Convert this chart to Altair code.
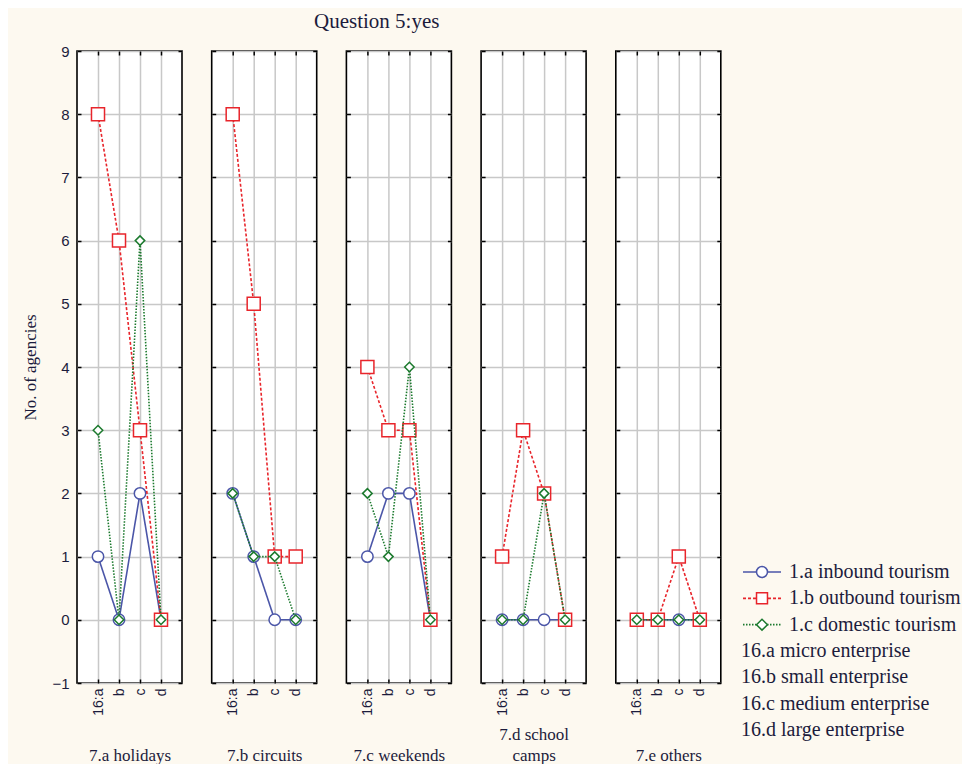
import altair as alt
import pandas as pd

# ---------------- data ----------------
cats = ["a", "b", "c", "d"]
panel_titles = [["7.a holidays"], ["7.b circuits"], ["7.c weekends"], ["7.d school", "camps"], ["7.e others"]]
series = ["1.a inbound tourism", "1.b outbound tourism", "1.c domestic tourism"]
inbound = [[1, 0, 2, 0], [2, 1, 0, 0], [1, 2, 2, 0], [0, 0, 0, 0], [0, 0, 0, 0]]
outbound = [[8, 6, 3, 0], [8, 5, 1, 1], [4, 3, 3, 0], [1, 3, 2, 0], [0, 0, 1, 0]]
domestic = [[3, 0, 6, 0], [2, 1, 1, 0], [2, 1, 4, 0], [0, 0, 2, 0], [0, 0, 0, 0]]
enterprise = ["16.a micro enterprise", "16.b small enterprise", "16.c medium enterprise", "16.d large enterprise"]
y_ticks = list(range(-1, 10))
chart_title = "Question 5:yes"
y_title = "No. of agencies"

# ---------------- styles ----------------
colors = ["#4b56a8", "#e8252b", "#1c7a2e"]
dashes = [[1, 0], [3, 2], [1.5, 1.5]]
shapes = ["circle", "square", "diamond"]
sizes = [130, 170, 90]
SERIF = "Liberation Serif"
SANS = "Liberation Sans"
TXT = "#1c1c3c"
GRID = "#c8c8c8"
TICK = 4

color_scale = alt.Scale(domain=series, range=colors)
dash_scale = alt.Scale(domain=series, range=dashes)
shape_scale = alt.Scale(domain=series, range=shapes)

PW, PH = 105, 632


def tick_axis(orient, values=None):
    kw = dict(orient=orient, offset=-TICK, tickSize=TICK, tickColor="black", tickWidth=1.5,
              labels=False, domain=False, grid=False, title=None)
    if values is not None:
        kw["values"] = values
    return alt.Axis(**kw)


def panel(i):
    rows = []
    for s, vals in zip(series, [inbound[i], outbound[i], domestic[i]]):
        for c, v in zip(cats, vals):
            rows.append({"cat": c, "series": s, "value": v})
    df = pd.DataFrame(rows)
    two = len(panel_titles[i]) > 1
    xaxis = alt.Axis(
        title=panel_titles[i] if two else panel_titles[i][0],
        titleFont=SERIF, titleFontSize=17, titleFontWeight="normal", titleColor=TXT,
        titleBaseline="top", titleY=43 if two else 64, titleLineHeight=21,
        labelAngle=270, labelAlign="right", labelBaseline="middle",
        labelExpr="datum.value == 'a' ? '16:a' : datum.value",
        labelFont=SANS, labelFontSize=14, labelColor=TXT, labelPadding=5,
        ticks=False, domain=False, grid=True, gridColor=GRID, gridWidth=1.5,
    )
    if i == 0:
        yaxis = alt.Axis(
            values=y_ticks, title=y_title, titleFont=SERIF, titleFontSize=17,
            titleFontWeight="normal", titleColor=TXT, titlePadding=12,
            labelFont=SANS, labelFontSize=15, labelColor=TXT, labelPadding=8,
            ticks=False, domain=False, grid=True, gridColor=GRID, gridWidth=1.5,
        )
    else:
        yaxis = alt.Axis(
            values=y_ticks, title=None, labels=False, ticks=False, domain=False,
            grid=True, gridColor=GRID, gridWidth=1.5,
        )
    axes = [
        (xaxis, yaxis),
        (tick_axis("top"), tick_axis("right", y_ticks)),
        (tick_axis("bottom"), tick_axis("left", y_ticks)),
    ]
    xs = alt.Scale(type="point", padding=1)
    ys = alt.Scale(domain=[-1, 9], nice=False, zero=False)
    base = alt.Chart(df)
    layers = []
    n = 0
    for k, s in enumerate(series):
        sub = base.transform_filter(alt.datum.series == s)
        for kind in ("line", "point"):
            if n < len(axes):
                ax, ay = axes[n]
            else:
                ax, ay = None, None
            x = alt.X("cat:N", sort=cats, scale=xs, axis=ax)
            y = alt.Y("value:Q", scale=ys, axis=ay)
            if kind == "line":
                layers.append(
                    sub.mark_line(strokeWidth=1.6).encode(
                        x=x, y=y,
                        color=alt.Color("series:N", scale=color_scale, legend=None),
                        strokeDash=alt.StrokeDash("series:N", scale=dash_scale, legend=None),
                    )
                )
            else:
                layers.append(
                    sub.mark_point(filled=True, fill="white", strokeWidth=1.5, size=sizes[k], opacity=1).encode(
                        x=x, y=y,
                        stroke=alt.Stroke("series:N", scale=color_scale, legend=None),
                        shape=alt.Shape("series:N", scale=shape_scale, legend=None),
                    )
                )
            n += 1
    return alt.layer(*layers).resolve_axis(x="independent", y="independent").properties(
        width=PW, height=PH,
        view=alt.ViewBackground(fill="white", stroke="black", strokeWidth=1.6),
    )


panels = alt.hconcat(*[panel(i) for i in range(5)], spacing=25.7)

# ---------------- legend panel ----------------
LW = 200
leg_s = pd.DataFrame({"series": series, "row": [0, 1, 2]})
leg_e = pd.DataFrame({"label": enterprise, "row": [3, 4, 5, 6]})
ly = alt.Y("row:O", scale=alt.Scale(type="point", domain=list(range(7)), range=[521, 679], padding=0), axis=None)
lx_scale = alt.Scale(domain=[0, LW], range=[0, LW])

leg_line = alt.Chart(leg_s).mark_rule(strokeWidth=1.6).encode(
    x=alt.X(datum=2, scale=lx_scale, axis=None), x2=alt.X2(datum=40), y=ly,
    color=alt.Color("series:N", scale=color_scale, legend=None),
    strokeDash=alt.StrokeDash("series:N", scale=dash_scale, legend=None),
)
leg_pts = alt.Chart(leg_s).mark_point(filled=True, fill="white", strokeWidth=1.5, size=120, opacity=1).encode(
    x=alt.X(datum=21, scale=lx_scale, axis=None), y=ly,
    stroke=alt.Stroke("series:N", scale=color_scale, legend=None),
    shape=alt.Shape("series:N", scale=shape_scale, legend=None),
)
leg_txt = alt.Chart(leg_s).mark_text(align="left", baseline="middle", font=SERIF, fontSize=20, color=TXT).encode(
    x=alt.X(datum=48, scale=lx_scale, axis=None), y=ly, text="series:N",
)
leg_ent = alt.Chart(leg_e).mark_text(align="left", baseline="middle", font=SERIF, fontSize=20, color=TXT).encode(
    x=alt.X(datum=0, scale=lx_scale, axis=None), y=ly, text="label:N",
)
legend = alt.layer(leg_line, leg_pts, leg_txt, leg_ent).properties(
    width=LW, height=PH,
    view=alt.ViewBackground(fill="transparent", stroke="transparent"),
)

chart = alt.hconcat(panels, legend, spacing=17).properties(
    title=alt.TitleParams(
        chart_title, font=SERIF, fontSize=21, fontWeight="normal", color=TXT,
        anchor="start", frame="group", dx=237, offset=11,
    ),
    background="#fdf9f0",
    padding={"left": 13, "top": 3, "right": 0, "bottom": 0},
).resolve_scale(color="shared", strokeDash="shared", shape="shared", stroke="shared")

chart.save("out.html", embed_options={"renderer": "svg", "actions": False})
